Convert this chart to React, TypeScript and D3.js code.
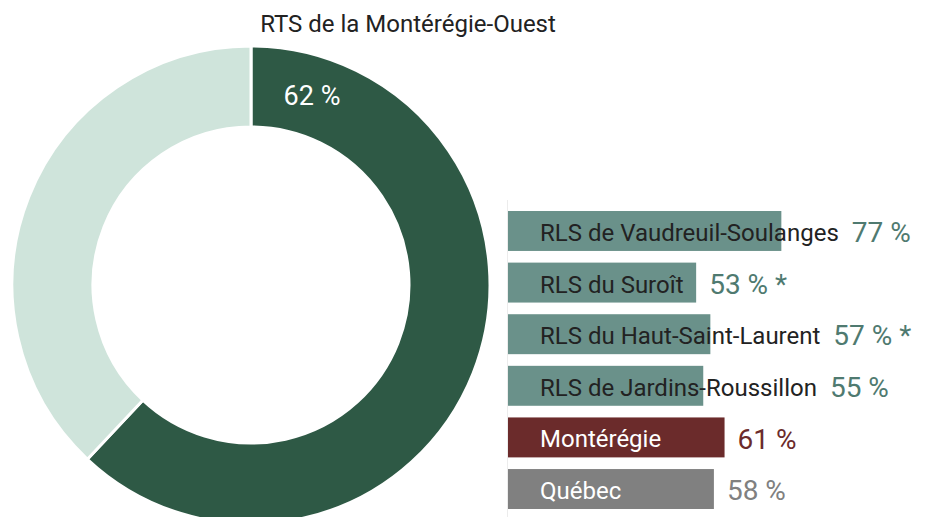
import React, { useEffect, useRef } from "react";
import * as d3 from "d3";

const title = "RTS de la Montérégie-Ouest";
const donutValue = 62;
const donutLabel = "62 %";

const barLabels = [
  "RLS de Vaudreuil-Soulanges",
  "RLS du Suroît",
  "RLS du Haut-Saint-Laurent",
  "RLS de Jardins-Roussillon",
  "Montérégie",
  "Québec",
];
const barValues = [77, 53, 57, 55, 61, 58];
const valueLabels = ["77 %", "53 % *", "57 % *", "55 %", "61 %", "58 %"];
const barKinds = ["rls", "rls", "rls", "rls", "region", "province"];

const W = 935;
const H = 517;
const FONT = "Roboto, 'Liberation Sans', sans-serif";

const barFill: Record<string, string> = { rls: "#6a918a", region: "#6b2b2b", province: "#808080" };
const labelFill: Record<string, string> = { rls: "#222222", region: "#ffffff", province: "#ffffff" };
const valueFill: Record<string, string> = { rls: "#4f7a70", region: "#6b2b2b", province: "#808080" };

export default function App() {
  const ref = useRef<SVGSVGElement>(null);

  useEffect(() => {
    const svg = d3.select(ref.current);
    svg.selectAll("*").remove();

    // Title
    svg.append("text")
      .attr("x", 408).attr("y", 32)
      .attr("text-anchor", "middle")
      .attr("font-family", FONT)
      .attr("font-size", 24)
      .attr("fill", "#222")
      .text(title);

    // Donut
    const cx = 251, cy = 285, rOuter = 239, rInner = 158;
    const g = svg.append("g").attr("transform", `translate(${cx},${cy})`);
    const pie = d3.pie<number>().sort(null).value((d) => d);
    const arcs = pie([donutValue, 100 - donutValue]);
    const arc = d3.arc<d3.PieArcDatum<number>>().innerRadius(rInner).outerRadius(rOuter);
    g.selectAll("path.slice")
      .data(arcs)
      .enter()
      .append("path")
      .attr("class", "slice")
      .attr("d", arc)
      .attr("fill", (_, i) => (i === 0 ? "#2e5945" : "#cfe4db"))
      .attr("stroke", "#fff")
      .attr("stroke-width", 3);

    const a = (17 * Math.PI) / 180;
    const rm = (rInner + rOuter) / 2;
    g.append("text")
      .attr("x", rm * Math.sin(a) + 3)
      .attr("y", -rm * Math.cos(a))
      .attr("dy", "0.35em")
      .attr("text-anchor", "middle")
      .attr("font-family", FONT)
      .attr("font-size", 27)
      .attr("fill", "#fff")
      .text(donutLabel);

    // Bars
    const x0 = 508;
    const x = d3.scaleLinear().domain([0, 100]).range([x0, x0 + 355]);
    const y = d3.scaleBand<number>()
      .domain(d3.range(barLabels.length))
      .range([211, 509])
      .paddingInner(0.226)
      .paddingOuter(0);

    svg.append("line")
      .attr("x1", x0 - 0.5).attr("x2", x0 - 0.5)
      .attr("y1", 200).attr("y2", H)
      .attr("stroke", "#ececec").attr("stroke-width", 1);

    const rows = svg.selectAll("g.row")
      .data(barValues)
      .enter()
      .append("g")
      .attr("class", "row");

    rows.append("rect")
      .attr("x", x(0))
      .attr("y", (_, i) => y(i)!)
      .attr("width", (d) => x(d) - x(0))
      .attr("height", y.bandwidth())
      .attr("fill", (_, i) => barFill[barKinds[i]]);

    const labels = rows.append("text")
      .attr("x", 540)
      .attr("y", (_, i) => y(i)! + y.bandwidth() / 2)
      .attr("dy", "0.42em")
      .attr("font-family", FONT)
      .attr("font-size", 24)
      .attr("fill", (_, i) => labelFill[barKinds[i]])
      .text((_, i) => barLabels[i]);

    const labelEnds: number[] = [];
    labels.each(function () {
      const el = this as SVGTextElement;
      labelEnds.push(540 + el.getComputedTextLength());
    });

    rows.append("text")
      .attr("x", (d, i) => Math.max(x(d), labelEnds[i]) + 13)
      .attr("y", (_, i) => y(i)! + y.bandwidth() / 2)
      .attr("dy", "0.4em")
      .attr("font-family", FONT)
      .attr("font-size", 28)
      .attr("fill", (_, i) => valueFill[barKinds[i]])
      .text((_, i) => valueLabels[i]);
  }, []);

  return (
    <svg ref={ref} width={W} height={H} style={{ display: "block", position: "absolute", left: 0, top: 0 }} />
  );
}
